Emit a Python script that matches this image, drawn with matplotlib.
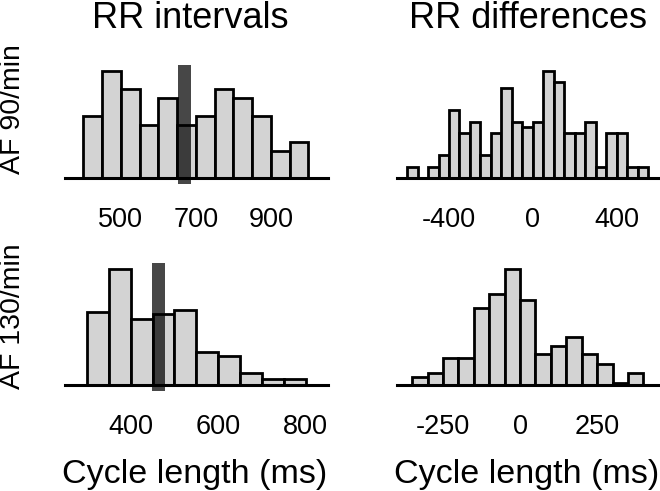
import numpy as np
import matplotlib
matplotlib.use('Agg')
import matplotlib.pyplot as plt

plt.rcParams['font.family'] = ['Liberation Sans', 'DejaVu Sans']

# histogram data (bin width 50 ms)
rr90_edges = np.arange(400, 1001, 50)
rr90_counts = [7, 12, 10, 6, 9, 6, 7, 10, 9, 7, 3, 4]
diff90_edges = np.arange(-600, 551, 50)
diff90_counts = [2, 0, 2, 4, 12, 8, 10, 4, 8, 16, 10, 9, 10, 19, 17, 8, 8, 10, 2, 8, 8, 2, 2]
rr130_edges = np.arange(300, 801, 50)
rr130_counts = [38, 60, 34, 37, 39, 17, 15, 6, 3, 3]
diff130_edges = np.arange(-350, 401, 50)
diff130_counts = [4, 6, 14, 14, 40, 47, 60, 44, 16, 20, 25, 16, 11, 1, 6]

# dark marker bars (mean cycle length)
mean90 = 669
mean130 = 464
mean_width = [36, 30]

ticks90 = [500, 700, 900]
ticks90d = [-400, 0, 400]
ticks130 = [400, 600, 800]
ticks130d = [-250, 0, 250]

W, H = 660, 491
fig = plt.figure(figsize=(W / 100, H / 100), dpi=100)


def make_ax(x0, x1, y0, y1):
    # pixel box -> figure fraction
    return fig.add_axes([x0 / W, 1 - y1 / H, (x1 - x0) / W, (y1 - y0) / H])


def draw_hist(ax, edges, counts, xlim, ylim, ticks):
    ax.bar(edges[:-1], counts, width=np.diff(edges), align='edge',
           color='#d3d3d3', edgecolor='black', linewidth=2.0, zorder=2)
    ax.set_xlim(*xlim)
    ax.set_ylim(*ylim)
    for s in ['top', 'right', 'left']:
        ax.spines[s].set_visible(False)
    ax.spines['bottom'].set_position(('data', 0))
    ax.spines['bottom'].set_linewidth(2.2)
    ax.spines['bottom'].set_zorder(3)
    ax.set_yticks([])
    ax.set_xticks(ticks)
    ax.set_xticklabels([str(t) for t in ticks])
    ax.tick_params(axis='x', length=0, pad=21, labelsize=19.5)
    ax.patch.set_visible(False)


ax1 = make_ax(65, 328, 65, 184)
draw_hist(ax1, rr90_edges, rr90_counts, (351, 1052), (-0.67, 12.7), ticks90)
ax1.axvspan(mean90 - mean_width[0] / 2, mean90 + mean_width[0] / 2,
            color='black', alpha=0.72, lw=0, zorder=4)

ax2 = make_ax(397, 660, 65, 184)
draw_hist(ax2, diff90_edges, diff90_counts, (-648, 606), (-1.07, 20.07), ticks90d)

ax3 = make_ax(65, 328, 263, 391)
draw_hist(ax3, rr130_edges, rr130_counts, (250, 851), (-3.1, 63.3), ticks130)
ax3.axvspan(mean130 - mean_width[1] / 2, mean130 + mean_width[1] / 2,
            color='black', alpha=0.72, lw=0, zorder=4)

ax4 = make_ax(397, 660, 263, 391)
draw_hist(ax4, diff130_edges, diff130_counts, (-399, 454), (-3.1, 63.3), ticks130d)

# titles, axis labels
fig.text(190 / W, 1 - 28 / H, 'RR intervals', ha='center', va='baseline', fontsize=26)
fig.text(528 / W, 1 - 28 / H, 'RR differences', ha='center', va='baseline', fontsize=26)
fig.text(195 / W, 1 - 483 / H, 'Cycle length (ms)', ha='center', va='baseline', fontsize=24.5)
fig.text(527 / W, 1 - 483 / H, 'Cycle length (ms)', ha='center', va='baseline', fontsize=24.5)
fig.text(13 / W, 1 - 109 / H, 'AF 90/min', rotation=90, ha='center', va='center', fontsize=20.5)
fig.text(13 / W, 1 - 316 / H, 'AF 130/min', rotation=90, ha='center', va='center', fontsize=20.5)

fig.savefig('out.png', dpi=100)
